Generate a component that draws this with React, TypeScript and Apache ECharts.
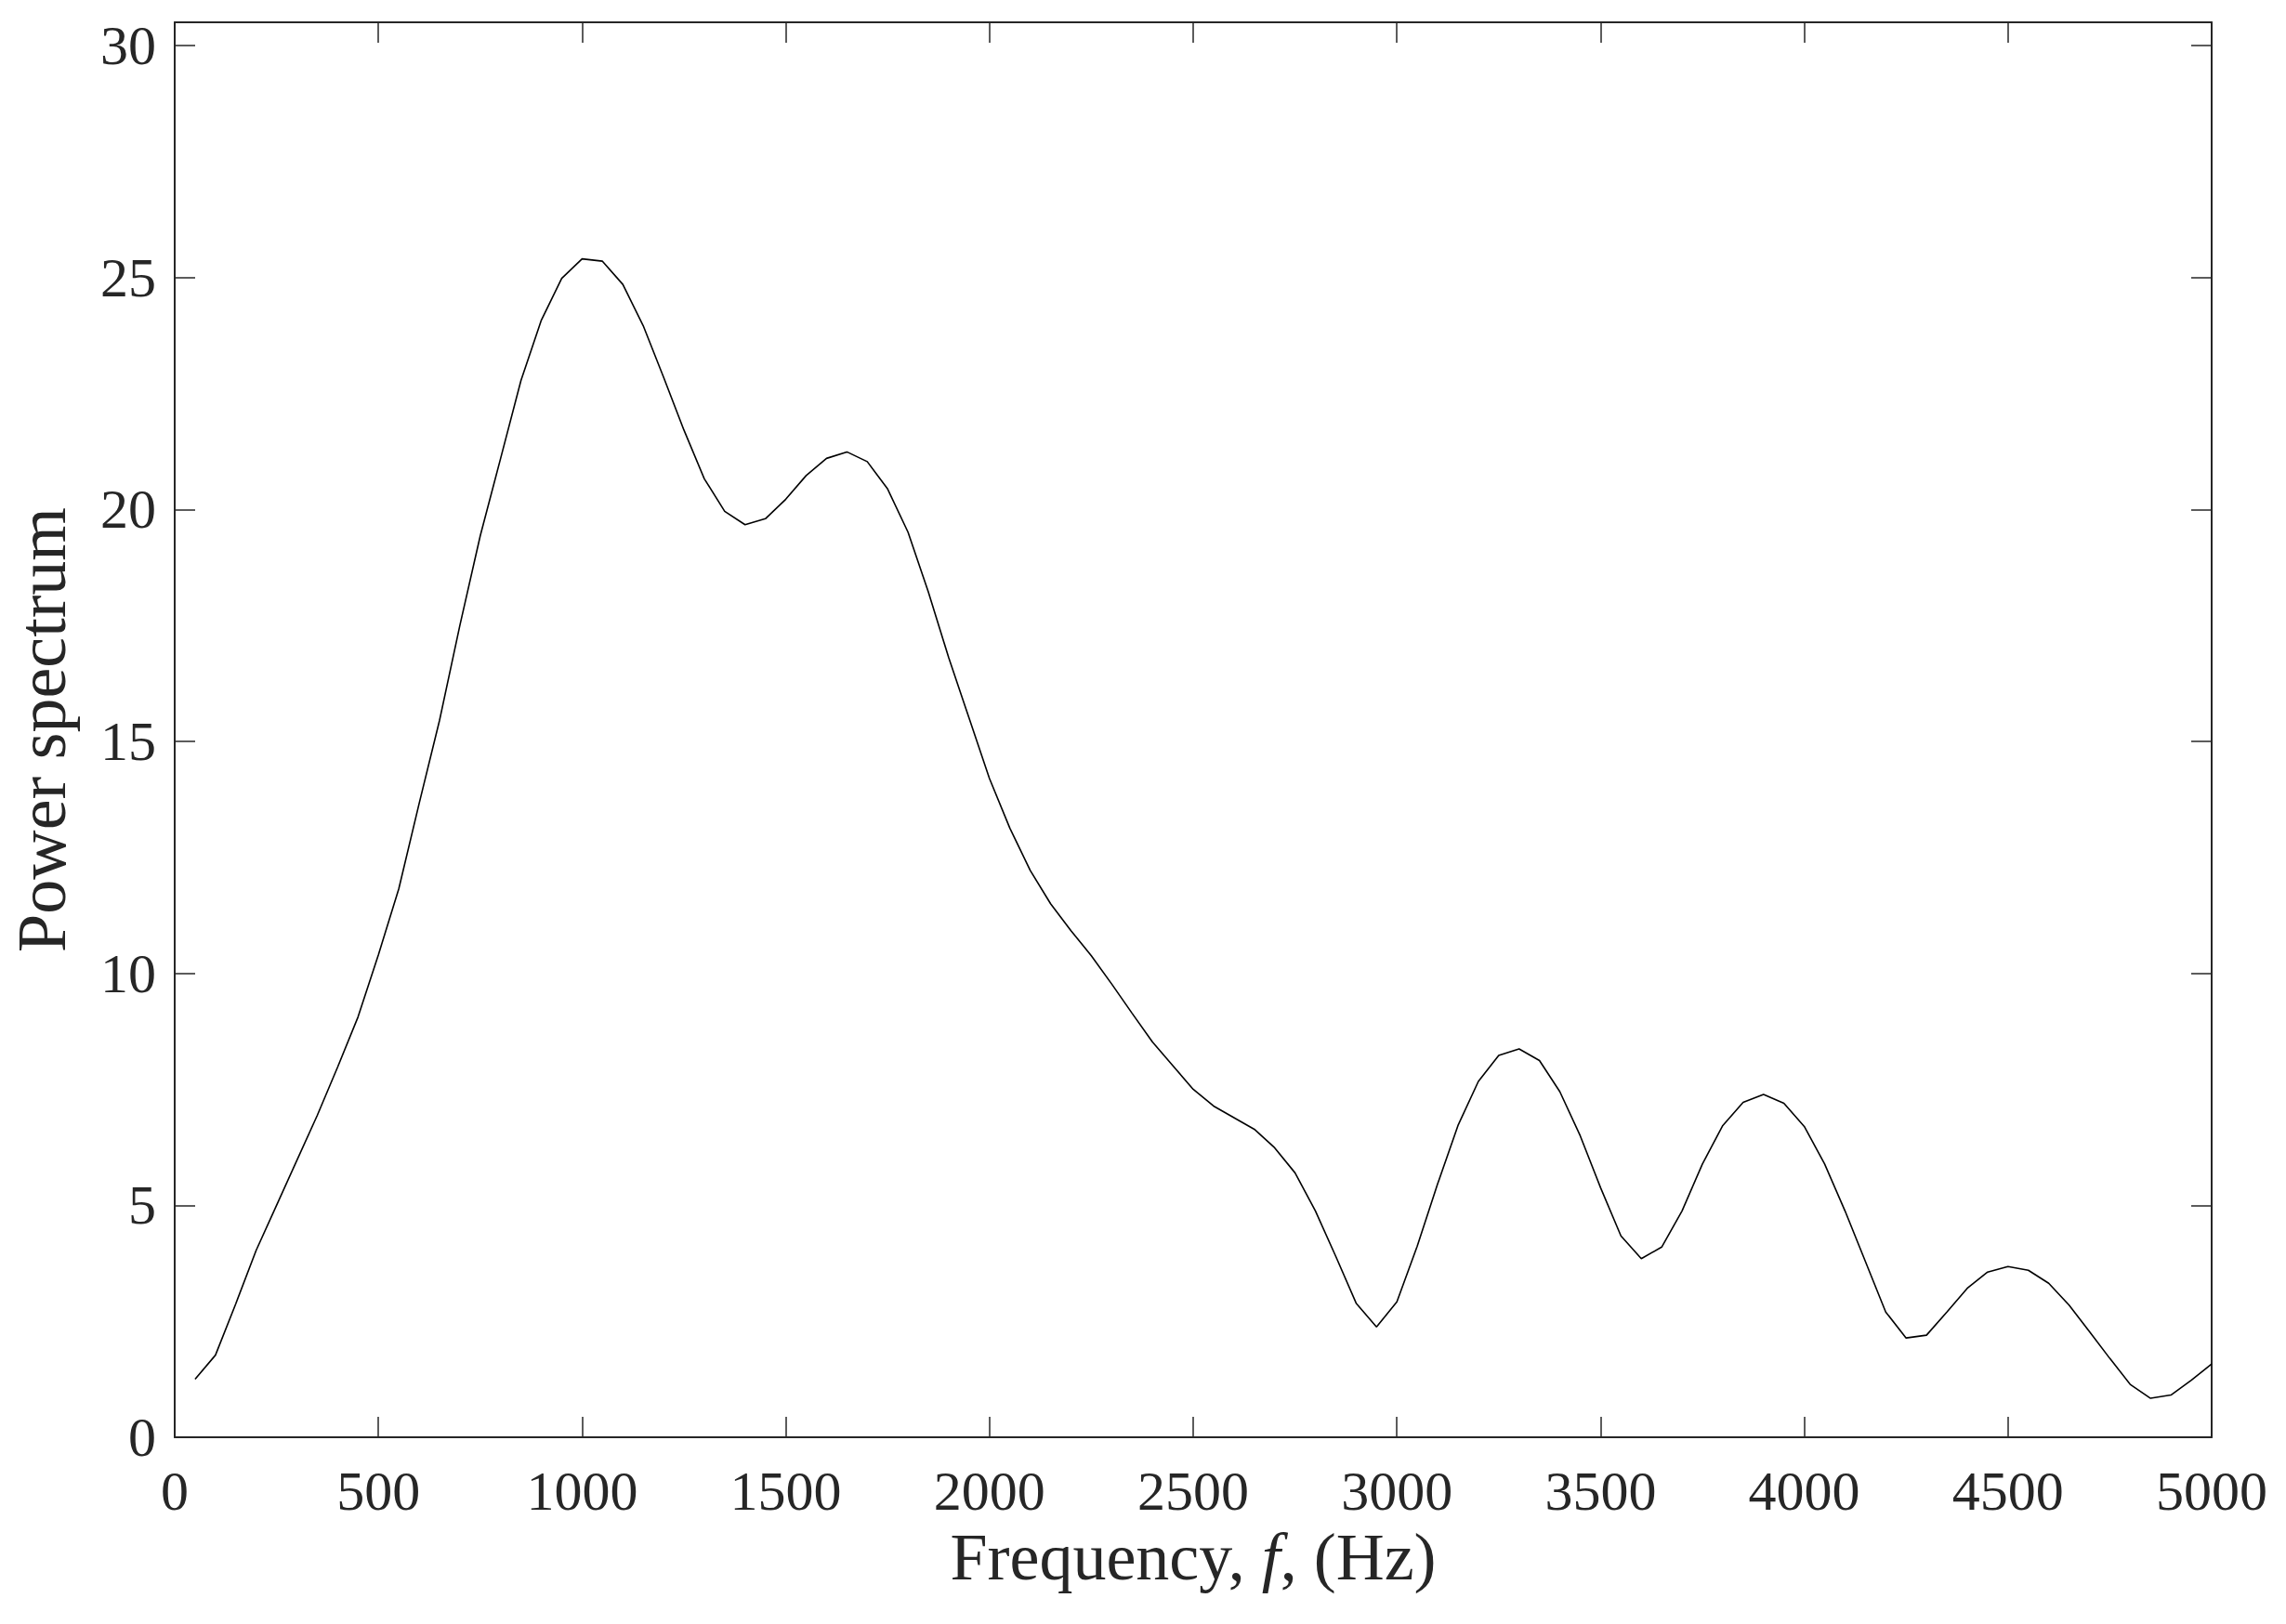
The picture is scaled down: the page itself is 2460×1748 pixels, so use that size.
import React, { useEffect, useRef } from "react";
import * as echarts from "echarts";

const frequencies = [
  50, 100, 150, 200, 250, 300, 350, 400, 450, 500,
  550, 600, 650, 700, 750, 800, 850, 900, 950, 1000,
  1050, 1100, 1150, 1200, 1250, 1300, 1350, 1400, 1450, 1500,
  1550, 1600, 1650, 1700, 1750, 1800, 1850, 1900, 1950, 2000,
  2050, 2100, 2150, 2200, 2250, 2300, 2350, 2400, 2450, 2500,
  2550, 2600, 2650, 2700, 2750, 2800, 2850, 2900, 2950, 3000,
  3050, 3100, 3150, 3200, 3250, 3300, 3350, 3400, 3450, 3500,
  3550, 3600, 3650, 3700, 3750, 3800, 3850, 3900, 3950, 4000,
  4050, 4100, 4150, 4200, 4250, 4300, 4350, 4400, 4450, 4500,
  4550, 4600, 4650, 4700, 4750, 4800, 4850, 4900, 4950, 5000,
];

const powerSpectrum = [
  1.25, 1.77, 2.88, 4.03, 5.0, 5.97, 6.94, 7.98, 9.06, 10.4,
  11.82, 13.66, 15.45, 17.5, 19.43, 21.1, 22.78, 24.08, 24.98, 25.4,
  25.35, 24.85, 23.96, 22.85, 21.71, 20.66, 19.96, 19.67, 19.8, 20.22,
  20.73, 21.1, 21.24, 21.03, 20.44, 19.51, 18.22, 16.8, 15.5, 14.2,
  13.13, 12.22, 11.5, 10.92, 10.38, 9.77, 9.14, 8.52, 8.01, 7.5,
  7.14, 6.89, 6.64, 6.24, 5.7, 4.88, 3.9, 2.89, 2.38, 2.92,
  4.12, 5.46, 6.72, 7.67, 8.23, 8.37, 8.12, 7.45, 6.5, 5.38,
  4.34, 3.85, 4.1, 4.88, 5.89, 6.72, 7.22, 7.39, 7.2, 6.7,
  5.89, 4.88, 3.79, 2.7, 2.14, 2.2, 2.7, 3.21, 3.56, 3.68,
  3.6, 3.32, 2.85, 2.28, 1.7, 1.14, 0.84, 0.91, 1.23, 1.58,
];

const xTickInterval = 500;
const yTickInterval = 5;
const xRange = [0, 5000];
const yRange = [0, 30.5];

const xTitle = "Frequency, ";
const xTitleItalic = "f";
const xTitleTail = ", (Hz)";
const yTitle = "Power spectrum";

const FONT = "'Liberation Serif', 'DejaVu Serif', serif";
const AXIS_COLOR = "#262626";

export default function App() {
  const ref = useRef<HTMLDivElement>(null);

  useEffect(() => {
    if (!ref.current) return;
    const chart = echarts.init(ref.current, undefined, { renderer: "svg" });
    const data = frequencies.map((f, i) => [f, powerSpectrum[i]]);

    const tickCommon = {
      show: true,
      inside: true,
      length: 22,
      lineStyle: { color: AXIS_COLOR, width: 1.5 },
    };
    const lineCommon = {
      show: true,
      onZero: false,
      lineStyle: { color: AXIS_COLOR, width: 2 },
    };

    chart.setOption({
      animation: false,
      backgroundColor: "#ffffff",
      grid: { left: 184, right: 80, top: 24, bottom: 201, containLabel: false },
      xAxis: [
        {
          type: "value",
          position: "bottom",
          min: xRange[0],
          max: xRange[1],
          interval: xTickInterval,
          axisLine: lineCommon,
          axisTick: tickCommon,
          splitLine: { show: false },
          axisLabel: {
            show: true,
            margin: 28,
            fontFamily: FONT,
            fontSize: 60,
            color: AXIS_COLOR,
            formatter: (v: number) => String(v),
          },
          name: `{a|${xTitle}}{i|${xTitleItalic}}{a|${xTitleTail}}`,
          nameLocation: "middle",
          nameGap: 60,
          nameTextStyle: {
            rich: {
              a: { fontFamily: FONT, fontSize: 72, color: AXIS_COLOR },
              i: { fontFamily: FONT, fontSize: 72, fontStyle: "italic", color: AXIS_COLOR },
            },
          },
        },
        {
          type: "value",
          position: "top",
          min: xRange[0],
          max: xRange[1],
          interval: xTickInterval,
          axisLine: lineCommon,
          axisTick: tickCommon,
          splitLine: { show: false },
          axisLabel: { show: false },
        },
      ],
      yAxis: [
        {
          type: "value",
          position: "left",
          min: yRange[0],
          max: yRange[1],
          interval: yTickInterval,
          axisLine: lineCommon,
          axisTick: tickCommon,
          splitLine: { show: false },
          axisLabel: {
            show: true,
            margin: 20,
            fontFamily: FONT,
            fontSize: 60,
            color: AXIS_COLOR,
            formatter: (v: number) => (v % yTickInterval === 0 ? String(v) : ""),
          },
          name: yTitle,
          nameLocation: "middle",
          nameGap: 106,
          nameTextStyle: { fontFamily: FONT, fontSize: 74, color: AXIS_COLOR },
        },
        {
          type: "value",
          position: "right",
          min: yRange[0],
          max: yRange[1],
          interval: yTickInterval,
          axisLine: lineCommon,
          axisTick: tickCommon,
          splitLine: { show: false },
          axisLabel: { show: false },
        },
      ],
      series: [
        {
          type: "line",
          xAxisIndex: 0,
          yAxisIndex: 0,
          data,
          symbol: "none",
          smooth: false,
          lineStyle: { color: "#000000", width: 1.6 },
        },
      ],
    });

    return () => chart.dispose();
  }, []);

  return (
    <div
      ref={ref}
      style={{ position: "absolute", left: 0, top: 0, width: 2460, height: 1748, background: "#fff" }}
    />
  );
}
